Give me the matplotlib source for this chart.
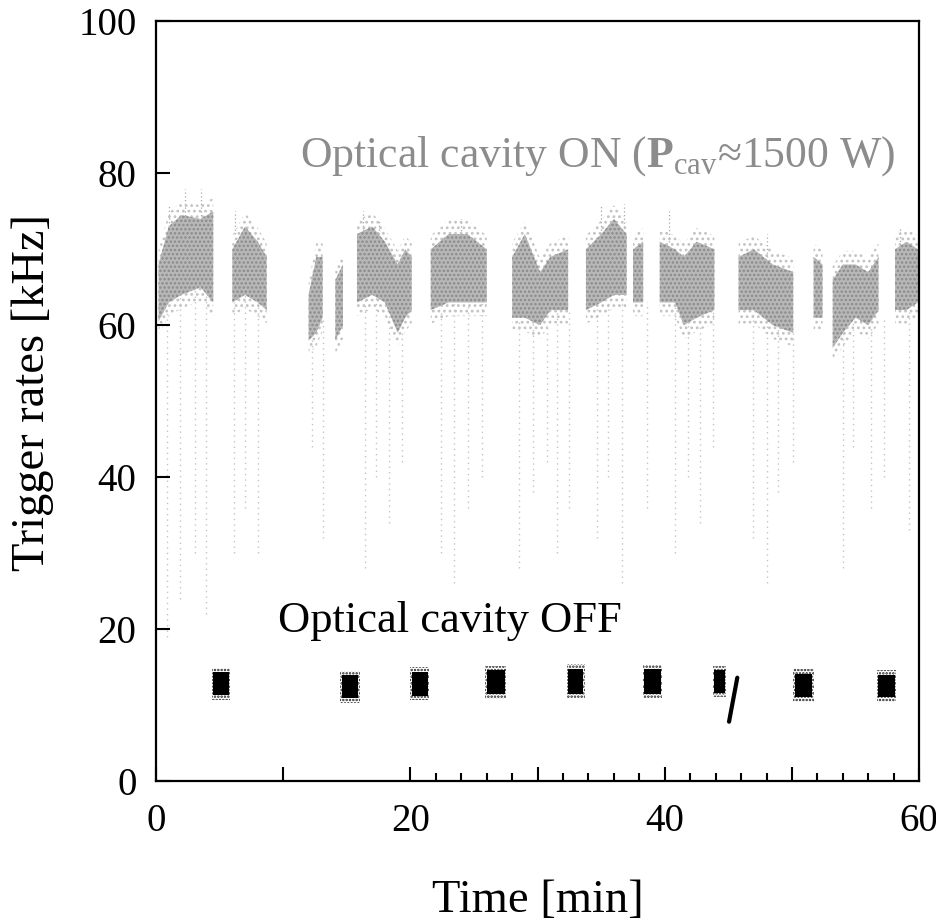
import numpy as np
import matplotlib.pyplot as plt
from matplotlib.ticker import FixedLocator

plt.rcParams['font.family'] = ['Liberation Serif', 'DejaVu Serif']
plt.rcParams['mathtext.fontset'] = 'custom'
plt.rcParams['mathtext.rm'] = 'Liberation Serif'
plt.rcParams['mathtext.bf'] = 'Liberation Serif:bold'
plt.rcParams['hatch.linewidth'] = 1.2

# cavity ON: envelope of the rate band for each run segment (time [min], low / high [kHz])
on_t = [[0.2, 1.0, 2.0, 3.5, 4.5],
        [6.0, 7.0, 8.0, 8.7],
        [12.0, 12.6, 13.1],
        [14.1, 14.7],
        [15.8, 17.0, 18.0, 19.0, 19.6, 20.1],
        [21.6, 23.0, 24.5, 26.0],
        [28.0, 29.0, 30.2, 31.0, 32.4],
        [33.8, 35.0, 36.0, 37.0],
        [37.5, 38.3],
        [39.6, 40.8, 41.5, 42.5, 43.9],
        [45.8, 47.0, 48.5, 50.1],
        [51.7, 52.4],
        [53.2, 54.0, 55.0, 56.0, 56.8],
        [58.1, 59.0, 59.9]]
on_lo = [[60.5, 63, 64, 65, 63],
         [63, 64, 63, 62],
         [58, 59, 61],
         [58, 60],
         [63, 64, 63, 59, 61, 62],
         [62, 63, 63, 63],
         [61, 61, 60, 62, 62],
         [62, 63, 64, 64],
         [63, 63],
         [63, 63, 60, 61, 62],
         [62, 62, 60, 59],
         [61, 61],
         [57, 59, 61, 60, 62],
         [62, 62, 63]]
on_hi = [[68, 73, 74.5, 74, 75],
         [70, 73, 71, 69],
         [64, 69, 69],
         [66, 68],
         [72, 73, 71, 68, 70, 69],
         [70, 72, 72, 70],
         [69, 72, 67, 69, 70],
         [70, 72, 74, 72],
         [70, 71],
         [71, 70, 69, 71, 70],
         [69, 70, 68, 67],
         [69, 68],
         [66, 68, 68, 67, 69],
         [70, 71, 70]]

# sparse dropouts below the ON band (time, lowest rate, top)
drop_t = [0.9, 1.9, 3.1, 3.9, 6.1, 7.0, 8.0, 12.3, 13.1, 16.4, 17.3, 18.3, 19.3,
          22.4, 23.4, 24.5, 25.6, 28.5, 29.6, 30.7, 31.5, 32.5, 34.7, 35.5, 36.6,
          38.6, 40.8, 41.8, 42.8, 43.8, 46.9, 48.0, 48.9, 50.1, 54.0, 54.8, 56.2,
          57.2, 59.2]
drop_lo = [19, 24, 30, 22, 30, 36, 30, 44, 32, 28, 40, 34, 42,
           30, 26, 36, 40, 28, 38, 42, 30, 36, 32, 40, 26,
           36, 30, 40, 34, 44, 32, 26, 38, 42, 28, 44, 36,
           40, 33]
drop_top = [62, 64, 65, 64, 63, 64, 63, 59, 61, 64, 64, 63, 59,
            62, 63, 63, 63, 61, 61, 60, 62, 62, 63, 63, 64,
            63, 63, 61, 61, 62, 62, 60, 60, 59, 59, 61, 60,
            61, 62]

# sparse spikes above the band
spike_t = [1.0, 2.3, 3.5, 6.2, 16.3, 17.5, 24.0, 35.0, 36.8, 40.3, 48.0, 58.5]
spike_lo = [72, 73, 73, 72, 72, 72, 71, 72, 73, 71, 69, 70]
spike_hi = [76, 78, 78, 75, 75, 74, 74, 76, 76, 75, 72, 73]

# cavity OFF clusters: time span and rate span
off_t0 = [4.5, 14.6, 20.1, 26.0, 32.4, 38.4, 43.9, 50.2, 56.8]
off_t1 = [5.7, 15.9, 21.4, 27.4, 33.6, 39.7, 44.7, 51.6, 58.1]
off_lo = [11.3, 10.9, 11.2, 11.4, 11.5, 11.5, 11.6, 11.0, 11.0]
off_hi = [14.3, 13.9, 14.4, 14.6, 14.8, 14.7, 14.6, 14.1, 14.0]
# slanted transient after 45 min
slant_t = [45.05, 45.7]
slant_r = [7.8, 13.6]

fig = plt.figure(figsize=(9.37, 9.24), dpi=100)
ax = fig.add_axes([0.1665, 0.1548, 0.8145, 0.822])

for t, lo, hi in zip(on_t, on_lo, on_hi):
    # fuzzy halo, then the dense core
    ax.fill_between(t, np.array(lo) - 1.8, np.array(hi) + 1.8, facecolor='none',
                    edgecolor='#c2c2c2', hatch='...', linewidth=0, zorder=2)
    ax.fill_between(t, lo, hi, facecolor='#b8b8b8', edgecolor='#8a8a8a',
                    hatch='....', linewidth=0, zorder=2)
ax.vlines(drop_t, drop_lo, drop_top, colors='#c4c4c4', linestyles=(0, (1, 3)),
          linewidth=1.0, zorder=1)
ax.vlines(spike_t, spike_lo, spike_hi, colors='#a8a8a8', linestyles=(0, (1, 2)),
          linewidth=0.9, zorder=1)

off_t0 = np.array(off_t0)
off_w = np.array(off_t1) - off_t0
off_h = np.array(off_hi) - np.array(off_lo)
ax.bar(off_t0 - 0.1, off_h + 1.2, width=off_w + 0.2, bottom=np.array(off_lo) - 0.6,
       align='edge', facecolor='none', edgecolor='#222222', hatch='.....',
       linewidth=0, zorder=3)
ax.bar(off_t0, off_h, width=off_w, bottom=off_lo,
       align='edge', color='black', linewidth=0, zorder=4)
ax.plot(slant_t, slant_r, color='black', linewidth=3, solid_capstyle='round', zorder=4)

ax.text(34.7, 82.3, r'Optical cavity ON ($\mathbf{P}_{\rm cav}$≈1500 W)',
        color='#8c8c8c', fontsize=31.5, ha='center', va='center')
ax.text(9.6, 21.0, 'Optical cavity OFF', color='black', fontsize=32,
        ha='left', va='center')

ax.set_xlim(0, 60)
ax.set_ylim(0, 100)
ax.xaxis.set_major_locator(FixedLocator([0, 10, 20, 30, 40, 50, 60]))
ax.set_xticklabels(['0', '', '20', '', '40', '', '60'])
ax.xaxis.set_minor_locator(FixedLocator([t for t in range(22, 60, 2) if t % 10]))
ax.set_yticks([0, 20, 40, 60, 80, 100])
ax.tick_params(axis='both', which='both', direction='in', top=False, right=False,
               labelsize=28, width=1.5)
ax.tick_params(axis='x', which='major', length=10, pad=16)
ax.tick_params(axis='x', which='minor', length=6)
ax.tick_params(axis='y', which='major', length=10, pad=14)
for s in ax.spines.values():
    s.set_linewidth(1.6)

ax.set_xlabel('Time [min]', fontsize=33.5, labelpad=28)
ax.set_ylabel('Trigger rates [kHz]', fontsize=33.5)
ax.yaxis.set_label_coords(-0.134, 0.512)

fig.savefig('out.png', dpi=100)
